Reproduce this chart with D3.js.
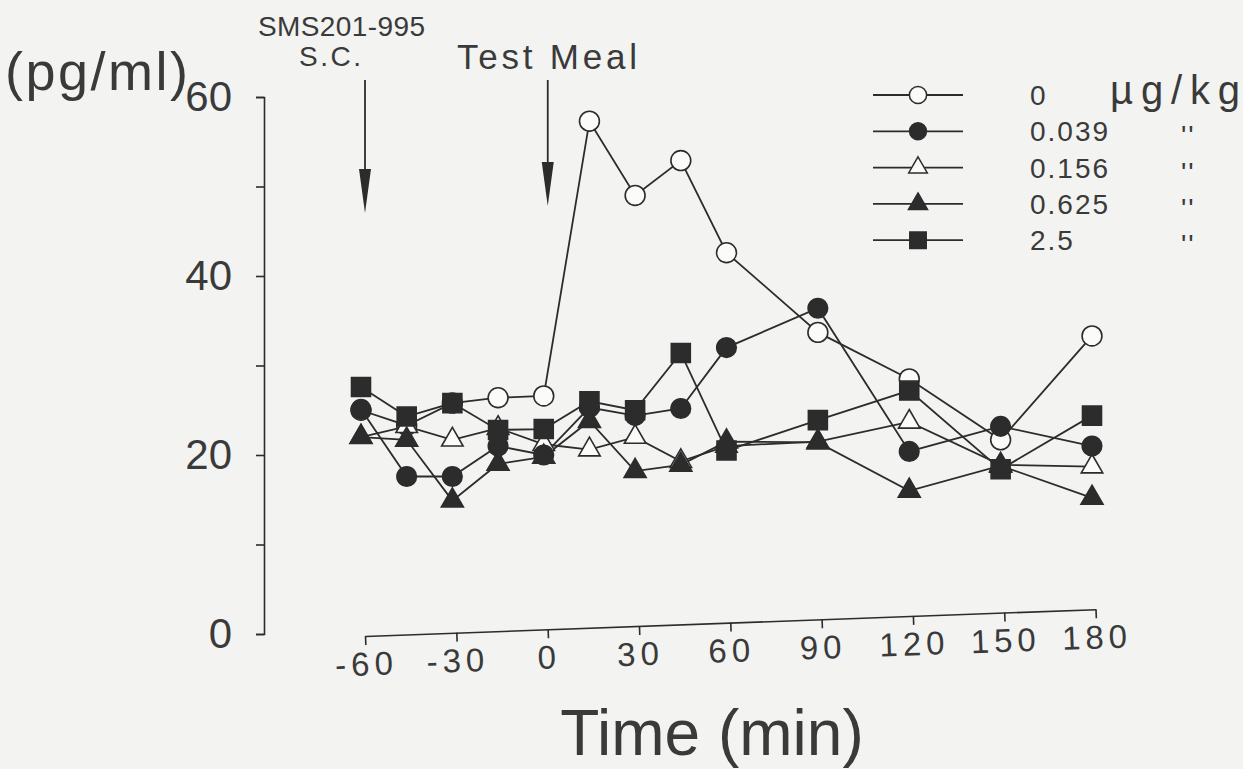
<!DOCTYPE html>
<html>
<head>
<meta charset="utf-8">
<script src="https://cdn.jsdelivr.net/npm/d3@7"></script>
<style>
  body { margin: 0; background: #f3f3f1; }
  svg { display: block; font-family: "Liberation Sans", Arial, sans-serif; }
</style>
</head>
<body>
<svg id="chart" width="1243" height="769"></svg>
<script>
// sampling times (min) and hormone level (pg/ml) per dose
const times = [-60, -45, -30, -15, 0, 15, 30, 45, 60, 90, 120, 150, 180];
const dose0    = [25.0, 23.3, 25.8, 26.4, 26.6, 57.3, 49.0, 52.9, 42.6, 33.7, 28.5, 21.7, 33.3];
const dose0039 = [25.1, 17.6, 17.6, 21.0, 20.0, 25.3, 24.4, 25.2, 32.0, 36.4, 20.4, 23.2, 21.0];
const dose0156 = [22.0, 23.2, 21.7, 23.0, 21.2, 20.6, 22.0, 19.3, 21.0, 21.5, 23.7, 18.9, 18.7];
const dose0625 = [22.0, 21.7, 14.9, 19.0, 19.8, 23.8, 18.2, 18.9, 21.5, 21.4, 16.0, 18.8, 15.2];
const dose25   = [27.6, 24.3, 25.8, 22.8, 22.9, 26.0, 25.0, 31.4, 20.5, 23.9, 27.2, 18.4, 24.4];
const doseLabels = ["0", "0.039", "0.156", "0.625", "2.5"];
const xTicks = [-60, -30, 0, 30, 60, 90, 120, 150, 180];
const yTicks = [0, 10, 20, 30, 40, 50, 60];
const yLabeled = [0, 20, 40, 60];

const ink = "#2c2c2c";
const textInk = "#3a3a3a";
const svg = d3.select("#chart");

const x = d3.scaleLinear().domain([-60, 180]).range([361, 1092]);
const y = d3.scaleLinear().domain([0, 60]).range([634, 97]);

// series: symbol shape and fill
const series = [
  { label: doseLabels[0], values: dose0,    shape: d3.symbolCircle,   size: 310, fill: "#fbfbfa" },
  { label: doseLabels[1], values: dose0039, shape: d3.symbolCircle,   size: 300, fill: ink },
  { label: doseLabels[2], values: dose0156, shape: d3.symbolTriangle, size: 200, fill: "#fbfbfa" },
  { label: doseLabels[3], values: dose0625, shape: d3.symbolTriangle, size: 210, fill: ink },
  { label: doseLabels[4], values: dose25,   shape: d3.symbolSquare,   size: 360, fill: ink }
];
// open symbols sit underneath the filled ones
const drawOrder = [0, 2, 1, 3, 4];

// y axis
const yAxis = svg.append("g")
  .attr("transform", "translate(264,0)")
  .call(d3.axisLeft(y).tickValues(yTicks).tickSize(8).tickPadding(24)
    .tickFormat(d => yLabeled.includes(d) ? String(d) : ""));
yAxis.selectAll("path, line").attr("stroke", ink).attr("stroke-width", 1.6);
yAxis.selectAll("text").attr("font-size", 42).attr("fill", textInk)
  .attr("font-family", "Liberation Sans, Arial, sans-serif");

// x axis (the scanned figure is slightly tilted)
const xAxis = svg.append("g")
  .attr("transform", `translate(4,636) rotate(-2.1 ${x(-60)} 0)`)
  .call(d3.axisBottom(x).tickValues(xTicks).tickSize(9).tickSizeOuter(0).tickPadding(7)
    .tickFormat(d => String(d)));
xAxis.selectAll("path, line").attr("stroke", ink).attr("stroke-width", 1.6);
xAxis.selectAll("text").attr("font-size", 33).attr("fill", textInk)
  .attr("letter-spacing", 5)
  .attr("font-family", "Liberation Sans, Arial, sans-serif");

// lines
const line = d3.line().x((d, i) => x(times[i])).y(d => y(d));
series.forEach(s => {
  svg.append("path")
    .datum(s.values)
    .attr("fill", "none")
    .attr("stroke", ink)
    .attr("stroke-width", 1.8)
    .attr("d", line);
});

// markers
drawOrder.forEach(k => {
  const s = series[k];
  svg.append("g").selectAll("path")
    .data(s.values)
    .join("path")
    .attr("transform", (d, i) => `translate(${x(times[i])},${y(d)})`)
    .attr("d", d3.symbol().type(s.shape).size(s.size))
    .attr("fill", s.fill)
    .attr("stroke", ink)
    .attr("stroke-width", 1.6);
});

// labels
svg.append("text").attr("x", 5).attr("y", 90).attr("font-size", 54).attr("fill", textInk)
  .attr("textLength", 183).attr("lengthAdjust", "spacing").text("(pg/ml)");
svg.append("text").attr("x", 258).attr("y", 36).attr("font-size", 28).attr("fill", textInk)
  .attr("textLength", 167).attr("lengthAdjust", "spacing").text("SMS201-995");
svg.append("text").attr("x", 299).attr("y", 66).attr("font-size", 28).attr("fill", textInk)
  .attr("textLength", 62).attr("lengthAdjust", "spacing").text("S.C.");
svg.append("text").attr("x", 457).attr("y", 69).attr("font-size", 35).attr("fill", textInk)
  .attr("textLength", 180).attr("lengthAdjust", "spacing").text("Test Meal");
svg.append("text").attr("x", 712).attr("y", 755).attr("font-size", 64).attr("fill", textInk)
  .attr("text-anchor", "middle").text("Time (min)");

// arrows for injection and meal
const arrows = [
  { t: -60, top: 80, tip: 213 },
  { t: 0, top: 80, tip: 206 }
];
arrows.forEach(a => {
  const ax = x(a.t) + 4;
  svg.append("line").attr("x1", ax).attr("x2", ax).attr("y1", a.top).attr("y2", a.tip - 40)
    .attr("stroke", ink).attr("stroke-width", 1.8);
  svg.append("path")
    .attr("d", `M${ax - 6},${a.tip - 44} L${ax + 6},${a.tip - 44} L${ax},${a.tip} Z`)
    .attr("fill", ink);
});

// legend
const legend = svg.append("g").attr("transform", "translate(873,95)");
series.forEach((s, i) => {
  const row = legend.append("g").attr("transform", `translate(0,${i * 36.3})`);
  row.append("line").attr("x1", 0).attr("x2", 90).attr("stroke", ink).attr("stroke-width", 1.8);
  row.append("path").attr("transform", "translate(45,0)")
    .attr("d", d3.symbol().type(s.shape).size(s.size * 0.75))
    .attr("fill", s.fill).attr("stroke", ink).attr("stroke-width", 1.5);
  row.append("text").attr("x", 157).attr("y", 10).attr("font-size", 28).attr("fill", textInk)
    .attr("letter-spacing", 2).text(s.label);
  if (i > 0) {
    row.append("text").attr("x", 308).attr("y", 14).attr("font-size", 28).attr("fill", textInk)
      .attr("letter-spacing", 2).text("''");
  }
});
legend.append("text").attr("x", 237).attr("y", 9).attr("font-size", 40).attr("fill", textInk)
  .attr("textLength", 130).attr("lengthAdjust", "spacing").text("µg/kg");
</script>
</body>
</html>
